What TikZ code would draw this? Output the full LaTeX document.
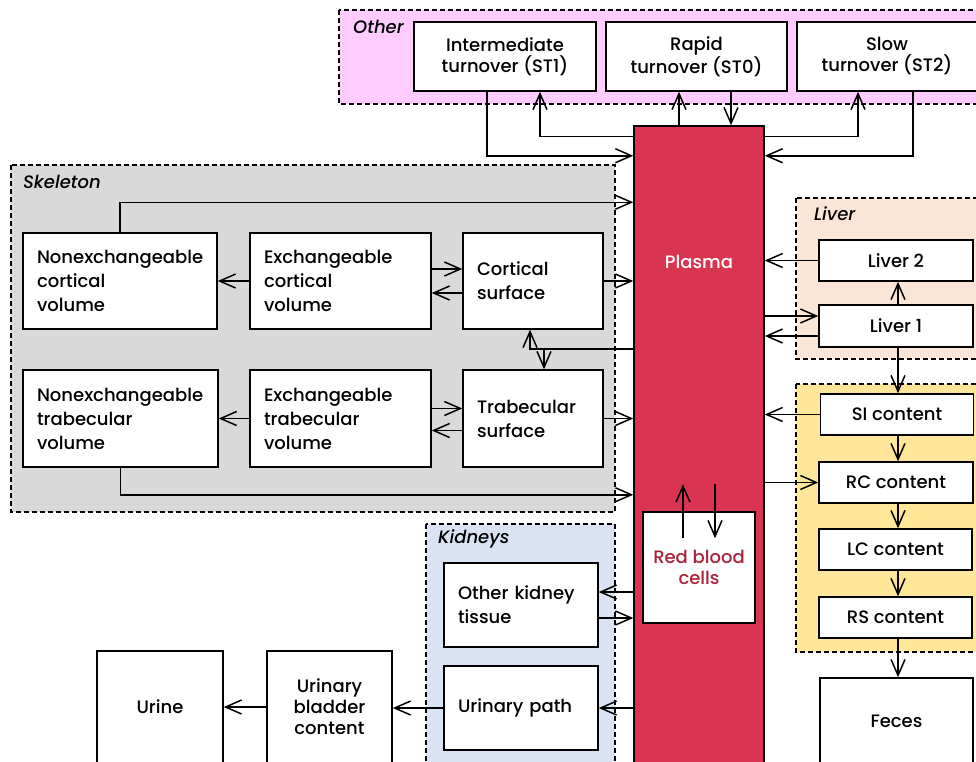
\documentclass[tikz,border=0pt]{standalone}
\usepackage{fontspec}
\setmainfont{Poppins}[UprightFont=* Medium, ItalicFont=* Medium Italic]
\usetikzlibrary{arrows.meta}

\definecolor{plasmared}{RGB}{217,52,80}
\definecolor{rbcred}{RGB}{170,34,56}
\definecolor{otherbg}{RGB}{255,204,255}
\definecolor{skelbg}{RGB}{217,217,217}
\definecolor{liverbg}{RGB}{251,229,214}
\definecolor{gibg}{RGB}{255,230,153}
\definecolor{kidbg}{RGB}{218,227,243}

\tikzset{
  box/.style={draw, fill=white, line width=1.5pt, inner sep=0pt, align=center,
    font=\fontsize{18}{21}\selectfont},
  lbox/.style={box, align=left, inner xsep=14pt, text width=#1,
    font=\fontsize{18}{24}\selectfont},
  region/.style={draw, dash pattern=on 5pt off 3pt, line width=1.3pt},
  grp/.style={anchor=west, inner sep=0pt, font=\fontsize{18}{20}\selectfont\itshape},
  arr/.style={-{Straight Barb[length=16pt,width=14pt]}, line width=1.5pt},
}

\begin{document}
\begin{tikzpicture}[x=1pt, y=-1pt]
\useasboundingbox (0,0) rectangle (976,761);

% compartments
\draw[region, fill=otherbg] (339,10) rectangle (990,104);
\draw[region, fill=skelbg] (11,165) rectangle (615,512);
\draw[region, fill=liverbg] (796,198) rectangle (990,359);
\draw[region, fill=gibg] (796,384) rectangle (990,652);
\draw[region, fill=kidbg] (426,524) rectangle (615,780);
\node[grp] (othertxt) at (353,27) {Other};
\node[grp] (skeltxt) at (23,182) {Skeleton};
\node[grp] (livertxt) at (814,214) {Liver};
\node[grp] (kidtxt) at (438,539) {Kidneys};

% plasma
\node[draw, fill=plasmared, line width=1.5pt, inner sep=0pt,
  minimum width=130pt, minimum height=654pt] (plasma) at (699,453) {};
\node[text=white, font=\fontsize{18}{20}\selectfont] (plasmatxt) at (699,262) {Plasma};
\node[box, text=rbcred, minimum width=112pt, minimum height=111pt] (rbc) at (699,567.5) {Red blood\\cells};

% other tissue
\node[box, minimum width=182pt, minimum height=69pt] (st1) at (505,56.5) {Intermediate\\turnover (ST1)};
\node[box, minimum width=181pt, minimum height=69pt] (st0) at (696.5,56.5) {Rapid\\turnover (ST0)};
\node[box, minimum width=180pt, minimum height=69pt] (st2) at (887,56.5) {Slow\\turnover (ST2)};

% skeleton
\node[lbox=166pt, minimum height=96pt] (ncv) at (120,281) {Nonexchangeable\\cortical\\volume};
\node[lbox=153pt, minimum height=96pt] (ecv) at (340.5,281) {Exchangeable\\cortical\\volume};
\node[lbox=112pt, minimum height=96pt] (cs) at (533,281) {Cortical\\surface};
\node[lbox=167pt, minimum height=97pt] (ntv) at (120.5,418.5) {Nonexchangeable\\trabecular\\volume};
\node[lbox=153pt, minimum height=97pt] (etv) at (340.5,418.5) {Exchangeable\\trabecular\\volume};
\node[lbox=112pt, minimum height=97pt] (ts) at (533,418.5) {Trabecular\\surface};

% liver and GI tract
\node[box, minimum width=154pt, minimum height=41pt] (liver2) at (896,260.5) {Liver 2};
\node[box, minimum width=154pt, minimum height=42pt] (liver1) at (896,326) {Liver 1};
\node[box, minimum width=153pt, minimum height=41pt] (si) at (897,414.5) {SI content};
\node[box, minimum width=154pt, minimum height=41pt] (rc) at (896,482.5) {RC content};
\node[box, minimum width=153pt, minimum height=41pt] (lc) at (895.5,549.5) {LC content};
\node[box, minimum width=153pt, minimum height=41pt] (rs) at (895.5,617.5) {RS content};
\node[box, minimum width=153pt, minimum height=86pt] (feces) at (896.5,721) {Feces};

% kidneys and urine
\node[lbox=126pt, minimum height=84pt] (okt) at (521,605) {Other kidney\\tissue};
\node[lbox=126pt, minimum height=84pt] (upath) at (521,708) {Urinary path};
\node[box, minimum width=125pt, minimum height=112pt] (ubc) at (329.5,707) {Urinary\\bladder\\content};
\node[box, minimum width=126pt, minimum height=112pt] (urine) at (160,707) {Urine};

% exchange with other tissue
\draw[arr] ([xshift=-18pt]st1.south) -- ++(0,64) coordinate (a1) -- (a1 -| plasma.west);
\draw[arr] ([yshift=-11pt]plasma.north west) -| ([xshift=35pt]st1.south);
\draw[arr] ([xshift=-20pt]plasma.north) -- ([xshift=-17.5pt]st0.south);
\draw[arr] ([xshift=34.5pt]st0.south) -- ([xshift=32pt]plasma.north);
\draw[arr] ([yshift=-11pt]plasma.north east) -| ([xshift=-29pt]st2.south);
\draw[arr] ([xshift=26pt]st2.south) -- ++(0,64) coordinate (a2) -- (a2 -| plasma.east);

% skeleton
\draw[arr] (ncv.north) -- ++(0,-30) coordinate (a3) -- (a3 -| plasma.west);
\draw[arr] (ecv.west) -- (ncv.east);
\draw[arr] ([yshift=12pt]ecv.east) -- ([yshift=12pt]cs.west);
\draw[arr] ([yshift=-12pt]cs.west) -- ([yshift=-12pt]ecv.east);
\draw[arr] (cs.east) -- (cs.east -| plasma.west);
\coordinate (jn1) at (530,349);
\coordinate (jn2) at (544,349);
\draw[arr] (plasma.west |- jn1) -- (jn1) -- (jn1 |- cs.south);
\draw[arr] (jn2) -- (jn2 |- ts.north);
\draw[arr] (etv.west) -- (ntv.east);
\draw[arr] ([yshift=10pt]etv.east) -- ([yshift=10pt]ts.west);
\draw[arr] ([yshift=-12pt]ts.west) -- ([yshift=-12pt]etv.east);
\draw[arr] (ts.east) -- (ts.east -| plasma.west);
\draw[arr] (ntv.south) -- ++(0,27) coordinate (a4) -- (a4 -| plasma.west);

% liver
\path ([yshift=10pt]liver1.west) coordinate (l1in) ([yshift=-10pt]liver1.west) coordinate (l1out);
\draw[arr] (liver2.west) -- (liver2.west -| plasma.east);
\draw[arr] (l1in -| plasma.east) -- (l1in);
\draw[arr] (l1out) -- (l1out -| plasma.east);
\draw[arr] ([xshift=2pt]liver1.north) -- ([xshift=2pt]liver2.south);
\draw[arr] ([xshift=2pt]liver1.south) -- ([xshift=2pt]liver1.south |- si.north);

% GI tract
\draw[arr] (si.west) -- (si.west -| plasma.east);
\draw[arr] (rc.west -| plasma.east) -- (rc.west);
\draw[arr] ([xshift=1pt]si.south) -- ([xshift=1pt]si.south |- rc.north);
\draw[arr] ([xshift=2pt]rc.south) -- ([xshift=2pt]rc.south |- lc.north);
\draw[arr] ([xshift=2.5pt]lc.south) -- ([xshift=2.5pt]lc.south |- rs.north);
\draw[arr] ([xshift=2.5pt]rs.south) -- ([xshift=2.5pt]rs.south |- feces.north);

% red blood cells
\draw[arr] ([xshift=-16pt,yshift=-27pt]rbc.north) -- ++(0,-54);
\draw[arr] ([xshift=16pt,yshift=27pt]rbc.north) -- ++(0,54);

% kidneys
\path ([yshift=13pt]okt.east) coordinate (kin) ([yshift=-13pt]okt.east) coordinate (kout);
\draw[arr] (kin -| plasma.west) -- (kin);
\draw[arr] (kout) -- (kout -| plasma.west);
\draw[arr] (upath.east -| plasma.west) -- (upath.east);
\draw[arr] (upath.west) -- (upath.west -| ubc.east);
\draw[arr] (ubc.west) -- (ubc.west -| urine.east);
\end{tikzpicture}
\end{document}
